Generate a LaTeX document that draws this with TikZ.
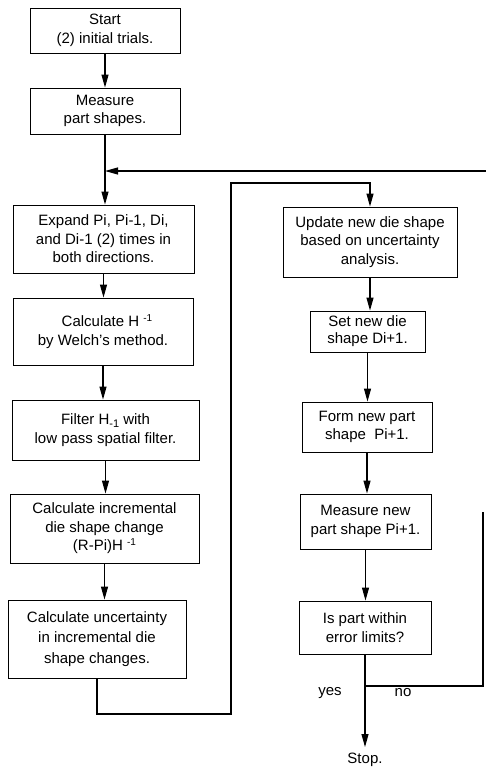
\documentclass[tikz,border=0pt]{standalone}
\usepackage{fontspec}
\setmainfont{Liberation Sans}
\usetikzlibrary{arrows.meta}
\newcommand{\supm}{\raisebox{0.65ex}{\fontsize{10bp}{10bp}\selectfont -1}}
\newcommand{\subm}{\raisebox{-0.35ex}{\fontsize{11bp}{11bp}\selectfont -1}}
\begin{document}
\begin{tikzpicture}[x=1bp,y=-1bp,
  box/.style={draw, line width=0.9bp, align=center, inner sep=2bp, font=\fontsize{15bp}{18.5bp}\selectfont},
  lbl/.style={inner sep=2bp, font=\fontsize{15bp}{18.5bp}\selectfont},
  arr/.style={line width=1.1bp, -{Triangle[length=13bp,width=7bp]}},
  ln/.style={line width=1.1bp}]
\useasboundingbox (0,0) rectangle (486,768);

% left column
\node[box, minimum width=150bp, minimum height=45bp] (start) at (105,30.5) {Start\\(2) initial trials.};
\node[box, minimum width=150bp, minimum height=46bp] (meas) at (105,111) {Measure\\part shapes.};
\node[box, minimum width=181bp, minimum height=68bp] (expand) at (103.5,239) {Expand Pi, Pi-1, Di,\\and Di-1 (2) times in\\both directions.};
\node[box, minimum width=180bp, minimum height=67bp] (calch) at (103,331.5) {\hspace{8bp}Calculate H \supm\\by Welch's method.};
\node[box, minimum width=187bp, minimum height=60bp] (filter) at (105.5,430) {Filter H\subm\ with\\low pass spatial filter.};
\node[box, minimum width=189bp, minimum height=69bp] (calcinc) at (104.5,528.5) {Calculate incremental\\die shape change\\(R-Pi)H \supm};
\node[box, minimum width=178bp, minimum height=78bp, font=\fontsize{15bp}{20.5bp}\selectfont] (unc) at (97,639) {Calculate uncertainty\\in incremental die\\shape changes.};

% right column
\node[box, minimum width=174bp, minimum height=70bp] (update) at (370,242) {Update new die shape\\based on uncertainty\\analysis.};
\node[box, minimum width=115bp, minimum height=41bp, font=\fontsize{15bp}{17bp}\selectfont] (set) at (367.5,331.5) {Set new die\\shape Di+1.};
\node[box, minimum width=130bp, minimum height=50bp] (form) at (367,427) {Form new part\\shape\ \ Pi+1.};
\node[box, minimum width=131bp, minimum height=55bp] (measnew) at (365.5,521.5) {Measure new\\part shape Pi+1.};
\node[box, minimum width=132bp, minimum height=53bp] (ispart) at (365,627.5) {Is part within\\error limits?};

\node[lbl, inner sep=6bp] (stop) at (365,760) {Stop.};
\node[lbl] (yes) at (330,693) {yes};
\node[lbl] (no) at (403,693) {no};

% left connectors
\draw[arr] (start.south) -- (start.south |- meas.north);
\coordinate (m) at (105,171);
\coordinate (fb) at (486,171);
\draw[ln] (meas.south) -- (m);
\draw[arr] (fb) -- (m);
\draw[arr] (m) -- (m |- expand.north);
\draw[arr] (expand.south) -- (expand.south |- calch.north);
\draw[arr] (calch.south) -- (calch.south |- filter.north);
\draw[arr] (filter.south) -- (filter.south |- calcinc.north);
\draw[arr] (calcinc.south) -- (calcinc.south |- unc.north);

% loop to right column
\coordinate (c1) at (231,714);
\coordinate (c2) at (231,183);
\draw[arr] (unc.south) |- (c1) -- (c2) -| (update.north);

% right connectors
\draw[arr] (update.south) -- (update.south |- set.north);
\draw[arr] (set.south) -- (set.south |- form.north);
\draw[arr] (form.south) -- (form.south |- measnew.north);
\draw[arr] (measnew.south) -- (measnew.south |- ispart.north);
\draw[arr] (ispart.south) -- (stop.north);
\coordinate (jy) at (0,686);
\coordinate (j) at (ispart.south |- jy);
\coordinate (r1) at (483,686);
\coordinate (r2) at (483,512);
\draw[ln] (j) -- (r1) -- (r2);
\end{tikzpicture}
\end{document}
